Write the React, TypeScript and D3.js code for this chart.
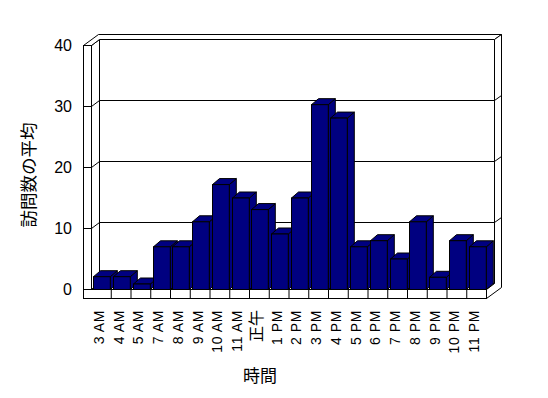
import React from "react";
import * as d3 from "d3";

const categories = ["3 AM","4 AM","5 AM","7 AM","8 AM","9 AM","10 AM","11 AM","正午","1 PM","2 PM","3 PM","4 PM","5 PM","6 PM","7 PM","8 PM","9 PM","10 PM","11 PM"];
const values = [2.1, 2.1, 0.9, 7, 7, 11.1, 17.2, 15, 13.1, 9.1, 15, 30.3, 28.1, 7, 8, 5, 11.1, 2, 8, 7];
const yTicks = [0, 10, 20, 30, 40];
const yTitle = "訪問数の平均";
const xTitle = "時間";

const FONT = "'Liberation Sans', 'Noto Sans CJK JP', sans-serif";

export default function App() {
  const x = d3.scaleBand<string>().domain(categories).range([91.5, 486.5]).paddingInner(0).paddingOuter(0);
  const y = d3.scaleLinear().domain([0, 40]).range([289.5, 45.5]);
  const DX = 8, DY = 6; // plot depth offset
  const OX = 15, OY = 11; // outer (wall thickness) depth offset
  const WT = 8; // left wall thickness
  const FT = 9; // floor thickness
  const x0 = x.range()[0];
  const x1 = x.range()[1];
  const y0 = y(0);
  const yTop = y(40);
  const bw = x.bandwidth();
  const BDX = 7, BDY = 6;
  const stroke = "#000";
  const pts = (a: number[][]) => a.map(p => p.join(",")).join(" ");
  const isCJK = (s: string) => /[\u3000-\u9fff]/.test(s);

  return (
    <svg width={548} height={398} style={{ position: "absolute", left: 0, top: 0, background: "#fff" }} fontFamily={FONT}>
      <rect x={0} y={0} width={548} height={398} fill="#fff" />
      <g fill="#fff" stroke={stroke} strokeWidth={1}>
        <rect x={x0 + DX} y={yTop - DY} width={x1 - x0} height={y0 - yTop} />
        <polygon points={pts([[x0, yTop], [x0 + DX, yTop - DY], [x0 + DX, y0 - DY], [x0, y0]])} />
        <polygon points={pts([[x0, y0], [x1, y0], [x1 + DX, y0 - DY], [x0 + DX, y0 - DY]])} />
        <polygon points={pts([[x0 - WT, yTop], [x0 - WT + OX, yTop - OY], [x1 + OX, yTop - OY], [x1 + DX, yTop - DY], [x0 + DX, yTop - DY], [x0, yTop]])} />
        <polygon points={pts([[x1 + DX, yTop - DY], [x1 + OX, yTop - OY], [x1 + OX, y0 - OY + FT], [x1, y0 + FT], [x1, y0], [x1 + DX, y0 - DY]])} />
        <rect x={x0 - WT} y={yTop} width={WT} height={y0 - yTop} />
        <rect x={x0 - WT} y={y0} width={x1 - x0 + WT} height={FT} />
      </g>
      <g stroke={stroke} strokeWidth={1} fill="none">
        {yTicks.filter(v => v > 0 && v < 40).map(v => (
          <g key={v}>
            <line x1={x0 - WT} x2={x0} y1={y(v)} y2={y(v)} />
            <line x1={x0} x2={x0 + DX} y1={y(v)} y2={y(v) - DY} />
            <line x1={x0 + DX} x2={x1 + DX} y1={y(v) - DY} y2={y(v) - DY} />
            <line x1={x1 + DX} x2={x1 + OX} y1={y(v) - DY} y2={y(v) - OY} />
          </g>
        ))}
        {categories.slice(1).map(c => (
          <line key={c} x1={x(c)!} x2={x(c)!} y1={y0} y2={y0 + FT} />
        ))}
      </g>
      <g fill="#000080" stroke={stroke} strokeWidth={1}>
        {categories.map((c, i) => {
          const xl = Math.round(x(c)! + 1.8) + 0.5;
          const xr = xl + 16.8;
          const yt = y(values[i]);
          return (
            <g key={c}>
              <polygon points={pts([[xr, yt], [xr + BDX, yt - BDY], [xr + BDX, y0 - BDY], [xr, y0]])} />
              <polygon points={pts([[xl, yt], [xr, yt], [xr + BDX, yt - BDY], [xl + BDX, yt - BDY]])} />
              <rect x={xl} y={yt} width={xr - xl} height={y0 - yt} />
            </g>
          );
        })}
      </g>
      <g fontSize={16} fill="#000" textAnchor="end">
        {yTicks.map(v => (
          <text key={v} x={72} y={y(v)} dy="0.36em">{v}</text>
        ))}
      </g>
      <g fill="#000" textAnchor="end">
        {categories.map(c => {
          const cx = x(c)! + bw / 2 - 2.5;
          const cjk = isCJK(c);
          return (
            <text key={c} transform={`translate(${cx},310) rotate(-90)`} dy="0.35em"
              fontSize={cjk ? 16 : 14} letterSpacing={cjk ? 0 : 0.6}>{c}</text>
          );
        })}
      </g>
      <text transform="translate(29,175) rotate(-90)" textAnchor="middle" dy="0.35em" fontSize={17.5} fill="#000">{yTitle}</text>
      <text x={260} y={382} textAnchor="middle" fontSize={17} fill="#000">{xTitle}</text>
    </svg>
  );
}
